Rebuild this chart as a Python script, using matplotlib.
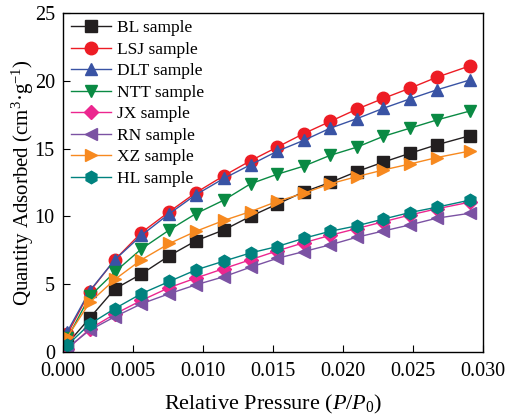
import numpy as np
import matplotlib.pyplot as plt
from matplotlib import rcParams

rcParams['font.family'] = ['Liberation Serif', 'DejaVu Serif']
rcParams['mathtext.fontset'] = 'custom'
rcParams['mathtext.rm'] = 'Liberation Serif'
rcParams['mathtext.it'] = 'Liberation Serif:italic'

# relative pressure points
pressure = [0.0003, 0.0019, 0.0037, 0.0056, 0.0076, 0.0095, 0.0115, 0.0134,
            0.0153, 0.0172, 0.0191, 0.0210, 0.0229, 0.0248, 0.0267, 0.0291]

bl = [0.6, 2.5, 4.65, 5.75, 7.1, 8.2, 9.0, 10.0, 10.9, 11.8, 12.5, 13.3, 14.0, 14.65, 15.27, 15.95]
lsj = [1.3, 4.45, 6.8, 8.8, 10.35, 11.75, 13.0, 14.1, 15.1, 16.1, 17.0, 17.9, 18.7, 19.45, 20.25, 21.1]
dlt = [1.5, 4.5, 6.8, 8.6, 10.2, 11.6, 12.8, 13.8, 14.8, 15.6, 16.5, 17.2, 17.97, 18.66, 19.32, 20.06]
ntt = [1.0, 4.1, 5.9, 7.6, 9.0, 10.2, 11.2, 12.4, 13.1, 13.7, 14.5, 15.1, 15.9, 16.5, 17.1, 17.77]
jx = [0.2, 1.7, 2.8, 3.8, 4.75, 5.45, 6.15, 6.8, 7.45, 8.05, 8.6, 9.1, 9.6, 10.1, 10.55, 11.05]
rn = [0.3, 1.6, 2.6, 3.55, 4.3, 4.95, 5.55, 6.25, 6.9, 7.4, 7.9, 8.46, 8.92, 9.37, 9.86, 10.23]
xz = [1.1, 3.65, 5.35, 6.8, 8.0, 8.9, 9.7, 10.35, 11.1, 11.7, 12.4, 12.93, 13.42, 13.86, 14.33, 14.82]
hl = [0.5, 2.05, 3.2, 4.3, 5.2, 6.05, 6.7, 7.3, 7.77, 8.38, 8.9, 9.3, 9.8, 10.28, 10.67, 11.2]

series = [
    ('BL sample', bl, '#231f20', 's'),
    ('LSJ sample', lsj, '#ed1c24', 'o'),
    ('DLT sample', dlt, '#3953a4', '^'),
    ('NTT sample', ntt, '#0a8a43', 'v'),
    ('JX sample', jx, '#ec268f', 'D'),
    ('RN sample', rn, '#7b52a3', '<'),
    ('XZ sample', xz, '#f7891f', '>'),
    ('HL sample', hl, '#00827f', 'h'),
]

fig = plt.figure(figsize=(5.05, 4.16), dpi=100)
ax = fig.add_axes([0.125, 0.154, 0.831, 0.815])

for label, vals, color, marker in series:
    ms = 7 if marker == 'D' else 9
    ax.plot(pressure, vals, color=color, marker=marker, markersize=ms,
            linewidth=1, label=label)

ax.set_xlim(0, 0.030)
ax.set_ylim(0, 25)
ax.set_xticks(np.arange(0, 0.0301, 0.005))
ax.set_xticklabels(['0.000', '0.005', '0.010', '0.015', '0.020', '0.025', '0.030'])
ax.set_yticks([0, 5, 10, 15, 20, 25])
ax.tick_params(direction='in', labelsize=14.5, length=5, top=False, right=False)
ax.tick_params(axis='x', pad=7)
ax.tick_params(axis='y', pad=6)
for sp in ax.spines.values():
    sp.set_linewidth(1)

ax.set_xlabel('Relative Pressure ($\\it{P}$/$\\it{P}_0$)', fontsize=16, labelpad=9)
ax.set_ylabel('Quantity Adsorbed (cm$^3$·g$^{-1}$)', fontsize=15, labelpad=-1)

ax.legend(loc='upper left', bbox_to_anchor=(-0.005, 1.01), frameon=False,
          fontsize=12.5, handlelength=2.3, labelspacing=0.31,
          borderaxespad=0.2, handletextpad=0.3)

fig.savefig('out.png', dpi=100)
